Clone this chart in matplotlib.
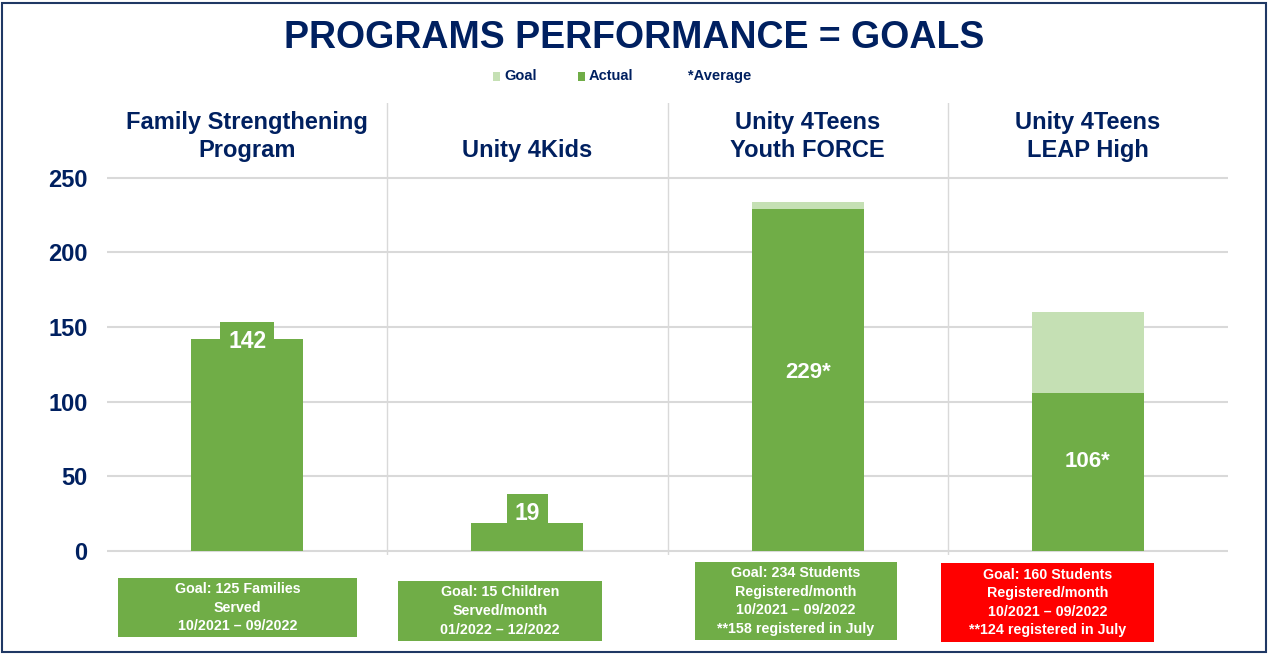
import matplotlib
matplotlib.use("Agg")
import matplotlib.pyplot as plt
from matplotlib.patches import Rectangle

plt.rcParams['font.family'] = ['Liberation Sans', 'DejaVu Sans']

categories = ["Family Strengthening\nProgram", "Unity 4Kids", "Unity 4Teens\nYouth FORCE", "Unity 4Teens\nLEAP High"]
goal = [125, 15, 234, 160]
actual = [142, 19, 229, 106]
value_labels = ["142", "19", "229*", "106*"]
yticks = [0, 50, 100, 150, 200, 250]
notes = [
    "Goal: 125 Families\nServed\n10/2021 \u2013 09/2022",
    "Goal: 15 Children\nServed/month\n01/2022 \u2013 12/2022",
    "Goal: 234 Students\nRegistered/month\n10/2021 \u2013 09/2022\n**158 registered in July",
    "Goal: 160 Students\nRegistered/month\n10/2021 \u2013 09/2022\n**124 registered in July",
]
note_colors = ["#70AD47", "#70AD47", "#70AD47", "#FF0000"]

NAVY = "#002060"
GREEN = "#70AD47"
LIGHT = "#C5E0B4"
GRID = "#D9D9D9"

W, H = 1269, 654
fig = plt.figure(figsize=(W / 100, H / 100), dpi=100)

def px(x0, y0, x1, y1):
    return [x0 / W, 1 - y1 / H, (x1 - x0) / W, (y1 - y0) / H]

ax = fig.add_axes(px(107, 103, 1228, 555))
x = list(range(len(categories)))
ax.bar(x, goal, width=0.4, color=LIGHT, zorder=2)
ax.bar(x, actual, width=0.4, color=GREEN, zorder=3)
ax.set_xlim(-0.5, 3.5)
ax.set_ylim(-2.7, 300)
ax.set_yticks(yticks)
ax.set_yticklabels([str(t) for t in yticks], fontsize=17, fontweight='bold', color=NAVY)
ax.tick_params(axis='y', length=0, pad=14)
ax.set_xticks([])
for s in ax.spines.values():
    s.set_visible(False)
for t in yticks:
    ax.axhline(t, color=GRID, lw=1.5, zorder=1)
for b in [0.5, 1.5, 2.5]:
    ax.axvline(b, color=GRID, lw=1, zorder=1)

for i, c in enumerate(categories):
    ax.text(i, 264, c, ha='center', va='baseline', fontsize=17, fontweight='bold',
            color=NAVY, linespacing=1.28)

# value labels
bbox_g = dict(boxstyle='square,pad=0.34', fc=GREEN, ec='none')
ax.annotate(value_labels[0], (0, actual[0]), xytext=(0, -1.5), textcoords='offset points',
            ha='center', va='center', fontsize=16.5, fontweight='bold', color='white',
            bbox=bbox_g, zorder=5)
ax.annotate(value_labels[1], (1, actual[1]), xytext=(0, 6.5), textcoords='offset points',
            ha='center', va='center', fontsize=16.5, fontweight='bold', color='white',
            bbox=dict(boxstyle='square,pad=0.34', fc=GREEN, ec='none'), zorder=5)
ax.text(2, actual[2] / 2 + 5, value_labels[2], ha='center', va='center', fontsize=16,
        fontweight='bold', color='white', zorder=5)
ax.text(3, actual[3] / 2 + 7, value_labels[3], ha='center', va='center', fontsize=16,
        fontweight='bold', color='white', zorder=5)

# title
fig.text(634 / W, 1 - 38 / H, "PROGRAMS PERFORMANCE = GOALS", ha='center', va='center',
         fontsize=27, fontweight='bold', color=NAVY)

# legend
leg_y = 1 - 76 / H
for (sx, lbl, col) in [(493, "Goal", LIGHT), (578, "Actual", GREEN)]:
    fig.patches.append(Rectangle((sx / W, 1 - 81 / H), 7 / W, 9 / H, transform=fig.transFigure,
                                 fc=col, ec='none'))
    fig.text((sx + 11) / W, leg_y, lbl, ha='left', va='center', fontsize=10.5,
             fontweight='bold', color=NAVY)
fig.text(688 / W, leg_y, "*Average", ha='left', va='center', fontsize=10.5,
         fontweight='bold', color=NAVY)

# note boxes
boxes = [(118, 578, 357, 637), (398, 581, 602, 641), (695, 562, 897, 640), (941, 563, 1154, 642)]
for (x0, y0, x1, y1), txt, col in zip(boxes, notes, note_colors):
    fig.patches.append(Rectangle((x0 / W, 1 - y1 / H), (x1 - x0) / W, (y1 - y0) / H,
                                 transform=fig.transFigure, fc=col, ec='none'))
    fig.text((x0 + x1) / 2 / W, 1 - (y0 + y1) / 2 / H, txt, ha='center', va='center',
             fontsize=10.3, fontweight='bold', color='white', linespacing=1.42)

# border
fig.patches.append(Rectangle((2 / W, 2 / H), (W - 5) / W, (H - 5) / H, transform=fig.transFigure,
                             fc='none', ec='#1F3864', lw=1.5))

fig.savefig("out.png", dpi=100)
